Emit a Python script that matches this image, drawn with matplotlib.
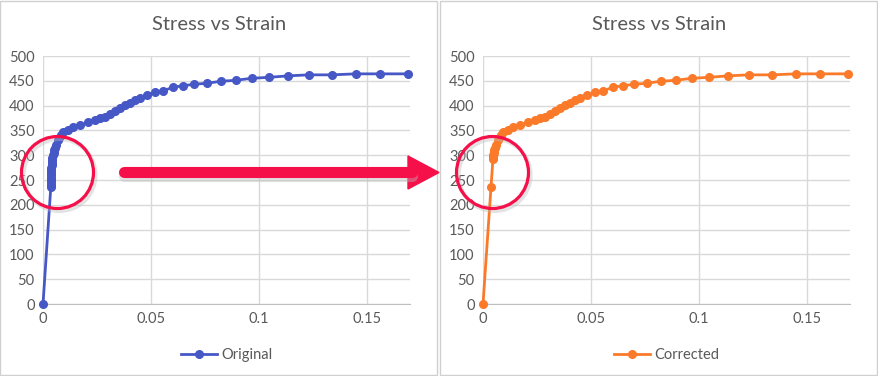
import matplotlib
matplotlib.use("Agg")
import matplotlib.pyplot as plt
from matplotlib.patches import Ellipse, Rectangle, Polygon
from matplotlib.lines import Line2D
from matplotlib.ticker import FuncFormatter

# original readings
orig_strain = [0.0, 0.0036, 0.0036, 0.0037, 0.0037, 0.0037, 0.0038, 0.0038, 0.0039,
               0.0039, 0.0040, 0.0041, 0.0042, 0.0044, 0.0047, 0.0050, 0.0053, 0.0056,
               0.0060, 0.0068, 0.0075, 0.0085,
               0.0094, 0.0117, 0.0140, 0.0171, 0.0210, 0.0241, 0.0264, 0.0287, 0.0310,
               0.0333, 0.0356, 0.0380, 0.0403, 0.0426, 0.0449, 0.0480, 0.0519, 0.0557,
               0.0603, 0.0647, 0.0700, 0.0758, 0.0823, 0.0892, 0.0966, 0.1046, 0.1137,
               0.1231, 0.1338, 0.1448, 0.1563, 0.1693]
orig_stress = [0, 235, 240, 245, 250, 255, 260, 265, 270,
               275, 280, 285, 290, 295, 300, 305, 310, 315,
               320, 330, 335, 340,
               347, 351, 356, 361, 366, 370, 374, 378, 384,
               390, 395, 401, 406, 411, 416, 421, 427, 430,
               437, 440, 443, 445, 449, 451, 455, 457, 460,
               462, 462, 464, 464, 464]

# corrected readings
corr_strain = [0.0, 0.0037, 0.0046, 0.0047, 0.0048, 0.0050, 0.0053, 0.0056,
               0.0060, 0.0068, 0.0075, 0.0085,
               0.0094, 0.0117, 0.0140, 0.0171, 0.0210, 0.0241, 0.0264, 0.0287, 0.0310,
               0.0333, 0.0356, 0.0380, 0.0403, 0.0426, 0.0449, 0.0480, 0.0519, 0.0557,
               0.0603, 0.0647, 0.0700, 0.0758, 0.0823, 0.0892, 0.0966, 0.1046, 0.1137,
               0.1231, 0.1338, 0.1448, 0.1563, 0.1693]
corr_stress = [0, 235, 292, 297, 300, 305, 310, 315,
               320, 330, 335, 340,
               347, 351, 356, 361, 366, 370, 374, 378, 384,
               390, 395, 401, 406, 411, 416, 421, 427, 430,
               437, 440, 443, 445, 449, 451, 455, 457, 460,
               462, 462, 464, 464, 464]

plt.rcParams['font.family'] = ['Lato', 'DejaVu Sans']
W, H = 879, 376
fig = plt.figure(figsize=(W / 100, H / 100), dpi=100)

txt = '#595959'
grid = '#D9D9D9'
red = '#F5104A'


def panel(x0, title, xs, ys, color, label):
    fig.add_artist(Rectangle((x0 / W, 1 / H), 437 / W, 374 / H, transform=fig.transFigure,
                             fill=False, edgecolor='#D0D0D0', lw=1))
    ax = fig.add_axes([(x0 + 43) / W, (H - 304) / H, 367 / W, 248 / H])
    ax.plot(xs, ys, color=color, lw=2, marker='o', ms=5.5, label=label, zorder=3,
            clip_on=False)
    ax.set_xlim(0, 0.17)
    ax.set_ylim(0, 500)
    ax.set_xticks([0, 0.05, 0.1, 0.15])
    ax.set_yticks(range(0, 501, 50))
    ax.xaxis.set_major_formatter(FuncFormatter(lambda v, p: '%g' % v))
    ax.grid(True, color=grid, lw=1)
    ax.set_axisbelow(True)
    for s in ['top', 'right', 'left']:
        ax.spines[s].set_visible(False)
    ax.spines['bottom'].set_color('#BFBFBF')
    ax.tick_params(length=0, labelsize=10.5, labelcolor=txt, pad=6)
    fig.text((x0 + 219) / W, 1 - 25 / H, title, ha='center', va='center',
             fontsize=14.5, color=txt)
    ax.legend(loc='upper center', bbox_to_anchor=(0.5, -0.125), frameon=False,
              fontsize=10.5, labelcolor=txt, handlelength=2.5, handletextpad=0.3)
    return ax


panel(0, 'Stress vs Strain', orig_strain, orig_stress, '#4657C6', 'Original')
panel(440, 'Stress vs Strain', corr_strain, corr_stress, '#FB7A2A', 'Corrected')

# red circles
for cx in [57.5, 492.5]:
    fig.add_artist(Ellipse(((cx + 2) / W, 1 - 175 / H), 72 / W, 72 / H,
                           transform=fig.transFigure, fill=False,
                           edgecolor='#BBBBBB', lw=3, alpha=0.4))
    fig.add_artist(Ellipse((cx / W, 1 - 172.5 / H), 72 / W, 72 / H,
                           transform=fig.transFigure, fill=False,
                           edgecolor=red, lw=2.3))

# arrow
fig.add_artist(Line2D([124 / W, 412 / W], [1 - 176 / H, 1 - 176 / H],
                      transform=fig.transFigure, color='#BBBBBB', lw=8,
                      solid_capstyle='round', alpha=0.4))
fig.add_artist(Line2D([124 / W, 412 / W], [1 - 172.5 / H, 1 - 172.5 / H],
                      transform=fig.transFigure, color=red, lw=8,
                      solid_capstyle='round'))
fig.add_artist(Polygon([(408 / W, 1 - 156 / H), (439 / W, 1 - 172.5 / H),
                        (408 / W, 1 - 189 / H)], closed=True,
                       transform=fig.transFigure, color=red))

fig.savefig('out.png', dpi=100)
